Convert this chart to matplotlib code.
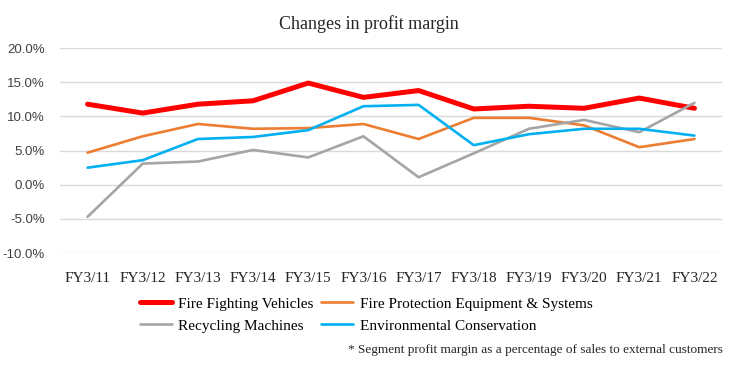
import matplotlib
matplotlib.use("Agg")
import matplotlib.pyplot as plt
from matplotlib.ticker import FuncFormatter

# fiscal years on the x axis
years = ['FY3/11', 'FY3/12', 'FY3/13', 'FY3/14', 'FY3/15', 'FY3/16',
         'FY3/17', 'FY3/18', 'FY3/19', 'FY3/20', 'FY3/21', 'FY3/22']

# segment profit margins in percent
fire_vehicles = [11.8, 10.5, 11.8, 12.3, 14.9, 12.8, 13.8, 11.1, 11.5, 11.2, 12.7, 11.2]
fire_protection = [4.7, 7.1, 8.9, 8.2, 8.3, 8.9, 6.7, 9.8, 9.8, 8.7, 5.5, 6.7]
recycling = [-4.7, 3.1, 3.4, 5.1, 4.0, 7.1, 1.1, 4.6, 8.2, 9.5, 7.7, 12.0]
environmental = [2.5, 3.6, 6.7, 7.0, 8.0, 11.5, 11.7, 5.8, 7.4, 8.2, 8.2, 7.2]

yticks = [-10, -5, 0, 5, 10, 15, 20]

serif = 'Liberation Serif'
sans = 'Liberation Sans'

fig = plt.figure(figsize=(7.34, 3.67), dpi=100)
ax = fig.add_axes([0.0817, 0.3106, 0.902, 0.558])

x = range(len(years))
l_ff, = ax.plot(x, fire_vehicles, color='#FF0000', lw=3.6, solid_capstyle='round',
                label='Fire Fighting Vehicles')
l_fp, = ax.plot(x, fire_protection, color='#ED7D31', lw=1.9, solid_capstyle='round',
                label='Fire Protection Equipment & Systems')
l_rc, = ax.plot(x, recycling, color='#A5A5A5', lw=1.9, solid_capstyle='round',
                label='Recycling Machines')
l_ec, = ax.plot(x, environmental, color='#00B0F0', lw=1.9, solid_capstyle='round',
                label='Environmental Conservation')

ax.set_xlim(-0.5, len(years) - 0.5)
ax.set_ylim(-10, 20)
ax.set_yticks(yticks)
ax.yaxis.set_major_formatter(FuncFormatter(lambda v, p: f'{v:.1f}%'))
ax.set_xticks(list(x))
ax.set_xticklabels(years, fontfamily=serif, fontsize=11, color='#262626')
for t in ax.get_yticklabels():
    t.set_fontfamily(sans)
    t.set_fontsize(9.5)
    t.set_color('#404040')
ax.tick_params(axis='both', length=0)
ax.tick_params(axis='x', pad=14)
ax.tick_params(axis='y', pad=11)
ax.grid(axis='y', color='#D9D9D9', lw=1)
ax.set_axisbelow(True)
for s in ax.spines.values():
    s.set_visible(False)

fig.text(0.503, 0.935, 'Changes in profit margin', ha='center', va='center',
         fontfamily=serif, fontsize=13, color='#262626')

fig.legend(handles=[l_ff, l_rc, l_fp, l_ec], ncol=2, loc='upper left',
           bbox_to_anchor=(0.191, 0.191), frameon=False,
           prop={'family': serif, 'size': 11}, handlelength=2.1,
           handletextpad=0.4, columnspacing=0.5, labelspacing=0.55,
           borderpad=0, borderaxespad=0)

fig.text(0.985, 0.045, '* Segment profit margin as a percentage of sales to external customers',
         ha='right', va='center', fontfamily=serif, fontsize=9.5, color='#262626')

fig.savefig('out.png', dpi=100)
